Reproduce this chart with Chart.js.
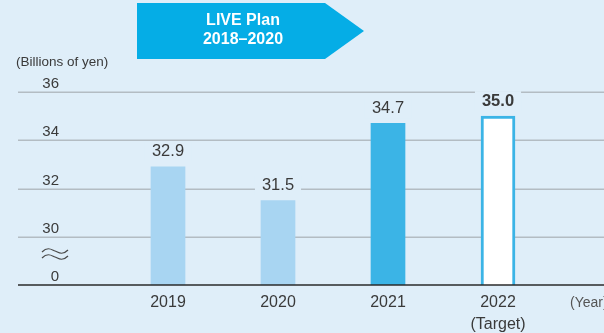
<!DOCTYPE html>
<html>
<head>
<meta charset="utf-8">
<script src="https://cdn.jsdelivr.net/npm/chart.js@4"></script>
<style>
  html, body { margin: 0; padding: 0; background: #dfeef9; }
  #wrap { width: 604px; height: 333px; }
</style>
</head>
<body>
<div id="wrap"><canvas id="chart" width="604" height="333"></canvas></div>
<script>
// Chart data
const categories = ['2019', '2020', '2021', '2022'];
const categoryLabels = ['2019', '2020', '2021', ['2022', '(Target)']];
const values = [32.9, 31.5, 34.7, 35.0];
const yTicks = [28, 30, 32, 34, 36];
const yTickLabels = ['0', '30', '32', '34', '36'];

const FONT = "'Liberation Sans', Arial, Helvetica, sans-serif";
const BG = '#dfeef9';
const TEXT = '#3a3a3a';

// Background, banner, gridlines and labels drawn around the bars
const decorations = {
    id: 'decorations',
    beforeDraw(chart) {
        const ctx = chart.ctx;
        ctx.save();
        ctx.fillStyle = BG;
        ctx.fillRect(0, 0, chart.width, chart.height);

        // LIVE Plan arrow banner
        ctx.fillStyle = '#05ade6';
        ctx.beginPath();
        ctx.moveTo(137, 3);
        ctx.lineTo(325, 3);
        ctx.lineTo(364, 31);
        ctx.lineTo(325, 59);
        ctx.lineTo(137, 59);
        ctx.closePath();
        ctx.fill();
        ctx.fillStyle = '#ffffff';
        ctx.font = 'bold 16px ' + FONT;
        ctx.textAlign = 'center';
        ctx.textBaseline = 'middle';
        ctx.fillText('LIVE Plan', 243, 21);
        ctx.fillText('2018\u20132020', 243, 40);

        // unit label
        ctx.fillStyle = TEXT;
        ctx.font = '13.5px ' + FONT;
        ctx.textAlign = 'left';
        ctx.fillText('(Billions of yen)', 16, 62);
        ctx.restore();
    },
    beforeDatasetsDraw(chart) {
        const ctx = chart.ctx;
        const y = chart.scales.y;
        ctx.save();
        ctx.lineWidth = 1.5;
        ctx.strokeStyle = '#b3bcc3';
        yTicks.forEach((v, i) => {
            const py = Math.round(y.getPixelForValue(v)) + 0.25;
            if (i > 0) {
                ctx.beginPath();
                ctx.moveTo(18, py);
                ctx.lineTo(chart.width, py);
                ctx.stroke();
            }
            ctx.fillStyle = TEXT;
            ctx.font = '15px ' + FONT;
            ctx.textAlign = 'right';
            ctx.textBaseline = 'middle';
            ctx.fillText(yTickLabels[i], 59, py - 8);
        });

        // axis break mark
        ctx.strokeStyle = '#4a4a4a';
        ctx.lineWidth = 1.2;
        [251, 257].forEach(cy => {
            ctx.beginPath();
            ctx.moveTo(42, cy + 1);
            ctx.bezierCurveTo(48, cy - 5, 52, cy - 1, 55, cy);
            ctx.bezierCurveTo(58, cy + 1, 62, cy + 5, 68, cy - 1);
            ctx.stroke();
        });
        ctx.restore();
    },
    afterDatasetsDraw(chart) {
        const ctx = chart.ctx;
        const meta = chart.getDatasetMeta(0);
        ctx.save();

        // baseline
        const by = chart.scales.y.getPixelForValue(yTicks[0]);
        ctx.strokeStyle = '#2a2a2a';
        ctx.lineWidth = 1.5;
        ctx.beginPath();
        ctx.moveTo(18, by);
        ctx.lineTo(chart.width, by);
        ctx.stroke();

        // value labels with a backdrop that breaks the gridlines
        meta.data.forEach((bar, i) => {
            const last = i === values.length - 1;
            const text = values[i].toFixed(1);
            ctx.font = (last ? 'bold ' : '') + '16.5px ' + FONT;
            const w = ctx.measureText(text).width + 14;
            const cy = bar.y - 15;
            ctx.fillStyle = BG;
            ctx.fillRect(bar.x - w / 2, cy - 10, w, 20);
            ctx.fillStyle = TEXT;
            ctx.textAlign = 'center';
            ctx.textBaseline = 'middle';
            ctx.fillText(text, bar.x, cy);
        });

        ctx.fillStyle = '#555';
        ctx.font = '14px ' + FONT;
        ctx.textAlign = 'left';
        ctx.textBaseline = 'middle';
        ctx.fillText('(Year)', 570, 303);
        ctx.restore();
    }
};

const ctx = document.getElementById('chart').getContext('2d');
window.chartInstance = new Chart(ctx, {
    type: 'bar',
    data: {
        labels: categoryLabels,
        datasets: [{
            data: values,
            backgroundColor: ['#a8d5f2', '#a8d5f2', '#3bb4e6', '#ffffff'],
            borderColor: ['#a8d5f2', '#a8d5f2', '#3bb4e6', '#3bb4e6'],
            borderWidth: [0, 0, 0, 3],
            borderSkipped: 'bottom',
            barThickness: 34
        }]
    },
    options: {
        responsive: false,
        animation: false,
        layout: { padding: { top: 92, left: 113, right: 51, bottom: 0 } },
        plugins: {
            legend: { display: false },
            tooltip: { enabled: false }
        },
        scales: {
            x: {
                grid: { display: false, drawTicks: false },
                border: { display: false },
                ticks: {
                    color: TEXT,
                    padding: 7,
                    font: { family: FONT, size: 16, lineHeight: 1.375 }
                },
                afterFit(scale) { scale.height = 48; }
            },
            y: {
                display: false,
                min: yTicks[0],
                max: yTicks[yTicks.length - 1],
                ticks: { stepSize: 2 }
            }
        }
    },
    plugins: [decorations]
});
</script>
</body>
</html>
